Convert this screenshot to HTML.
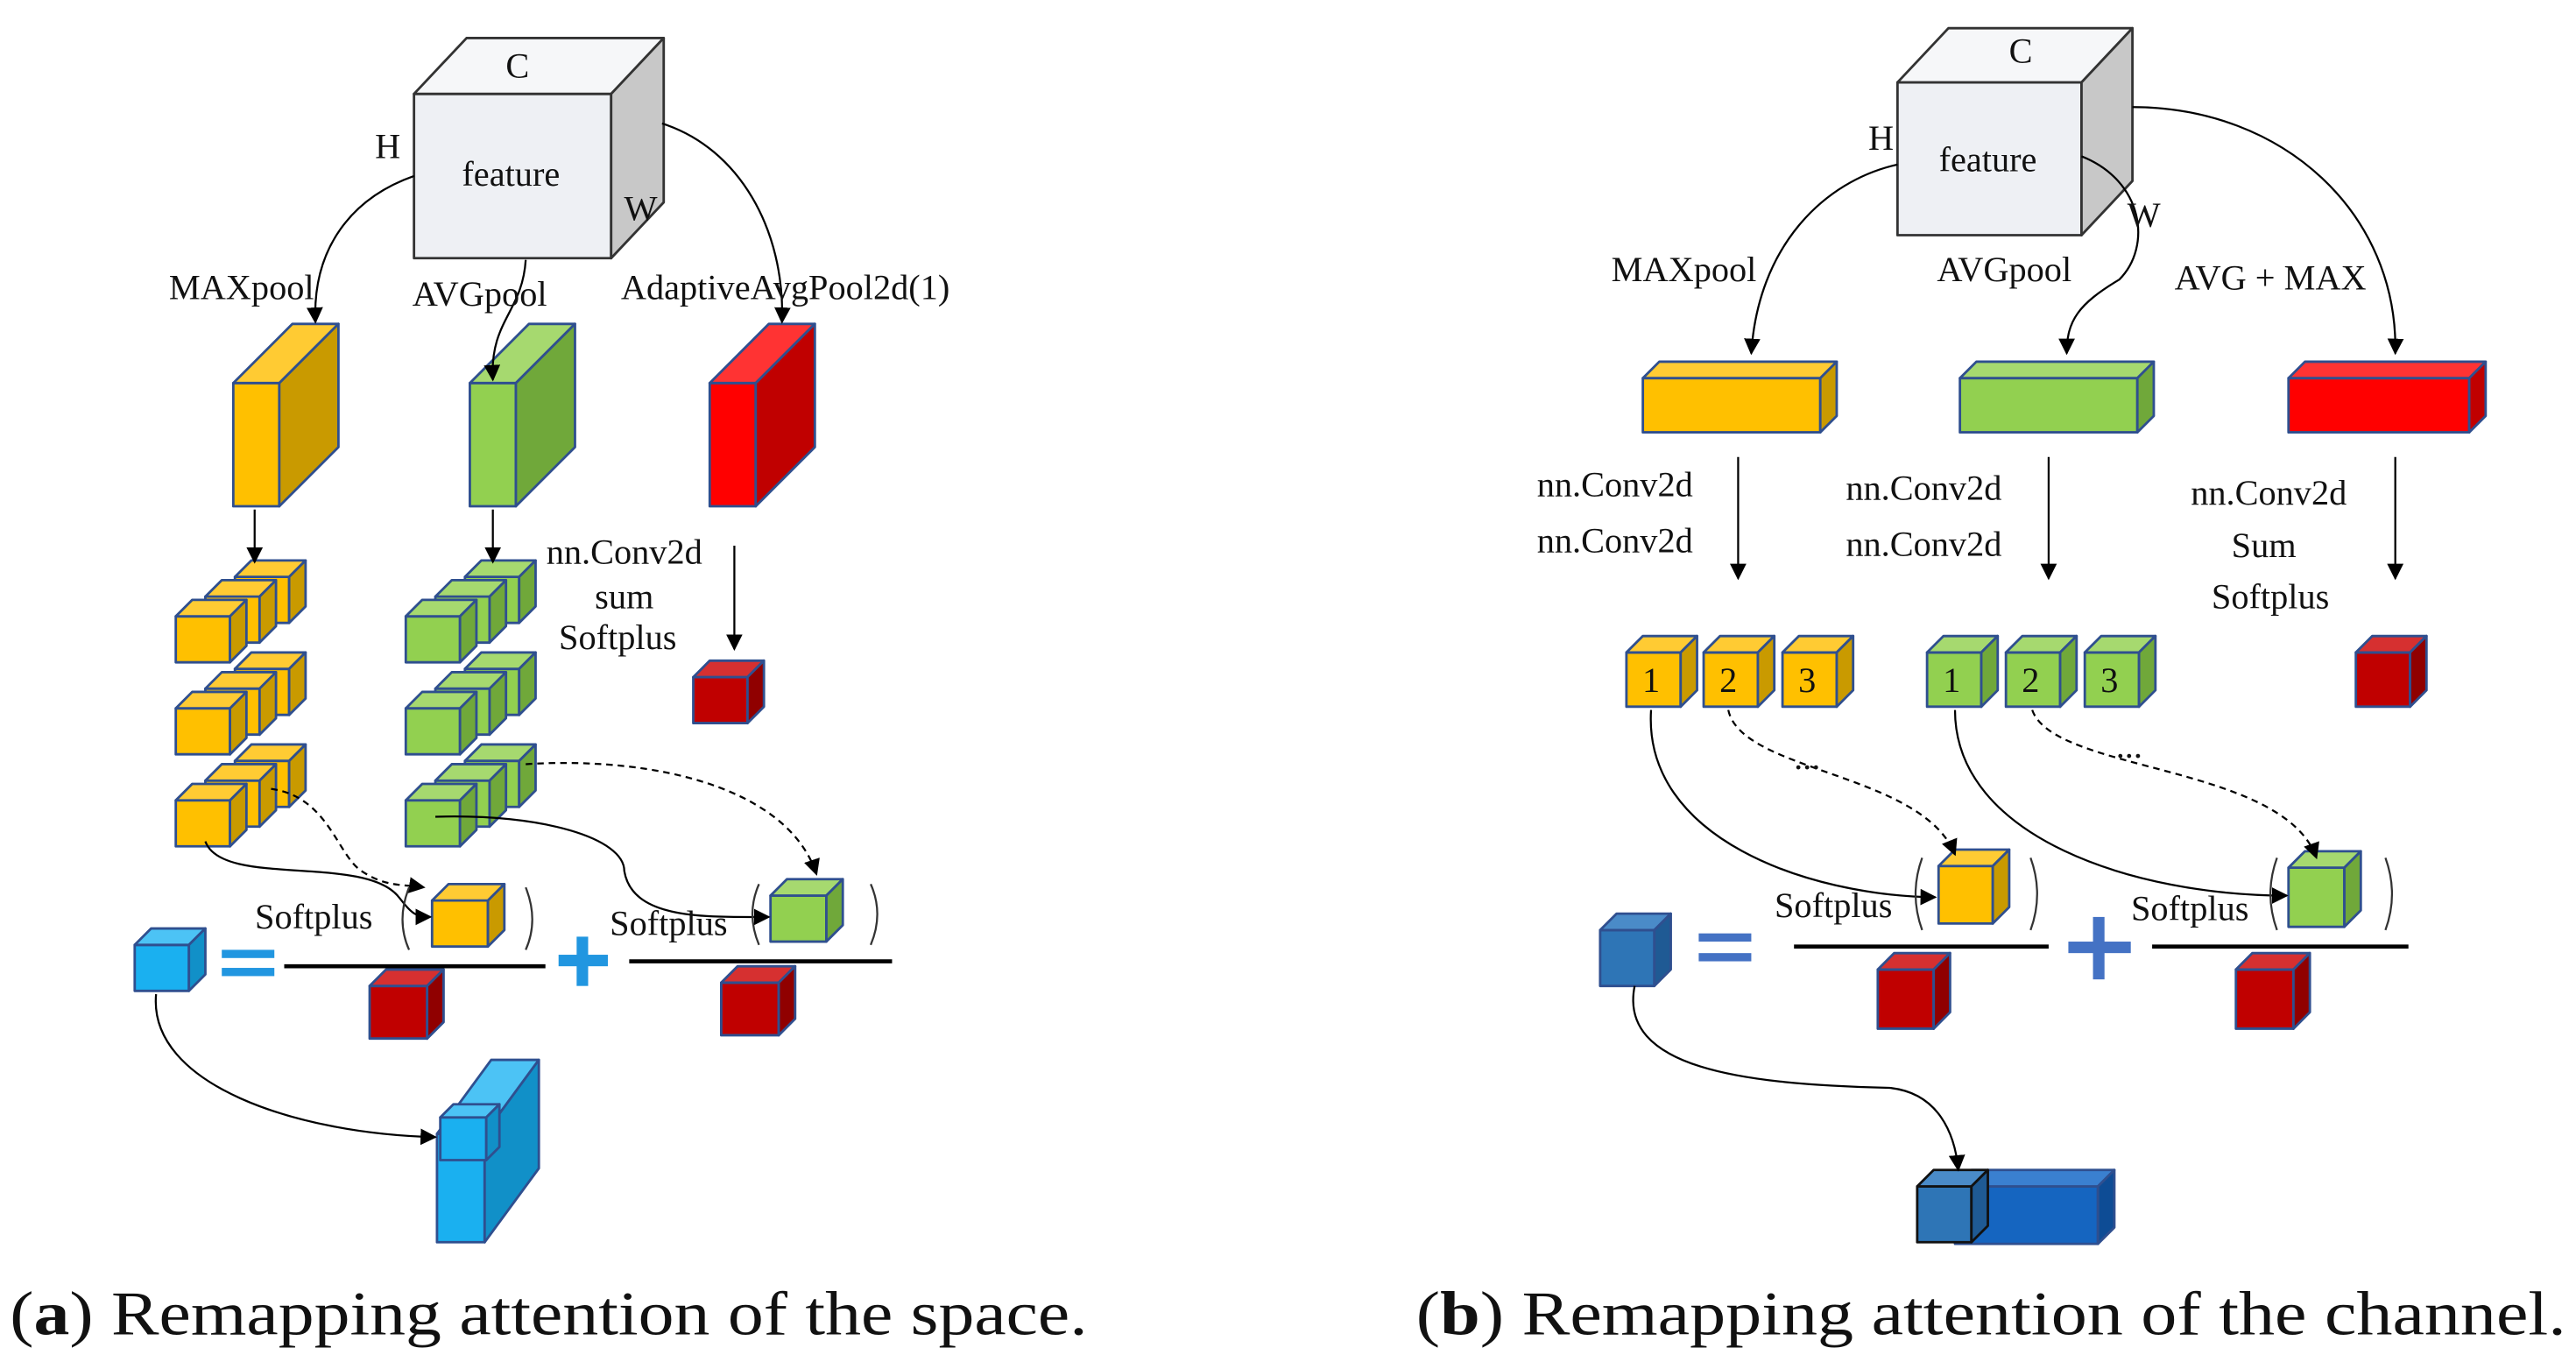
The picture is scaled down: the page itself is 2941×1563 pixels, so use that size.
<!DOCTYPE html>
<html><head><meta charset="utf-8"><style>
html,body{margin:0;padding:0;background:#fff;width:2941px;height:1563px;overflow:hidden}
svg{display:block}
text{font-family:"Liberation Serif",serif;fill:#111}
</style></head><body>
<svg id="s" width="2941" height="1563" viewBox="0 0 1568 833" xmlns="http://www.w3.org/2000/svg">
<defs>
<marker id="ar" markerWidth="10" markerHeight="10" refX="9" refY="5" orient="auto" markerUnits="userSpaceOnUse"><path d="M0,0 L10,5 L0,10 z" fill="#000"/></marker>
</defs>
<g id="cubes"></g>
<g fill="none" stroke="#000" stroke-width="1.2" marker-end="url(#ar)">
<path d="M252,107 C215,120 190,150 192,196"/>
<path d="M320,158 C318,190 298,195 300,231"/>
<path d="M403,75 C450,90 478,140 476,196"/>
<path d="M155,310 L155,342"/>
<path d="M300,310 L300,342"/>
<path d="M447,332 L447,395"/>
<path d="M125,512 C135,540 220,520 242,545 C250,555 252,558 262,558"/>
<path d="M165,480 C200,485 205,520 220,530 C235,540 245,538 258,540" stroke-dasharray="4,3"/>
<path d="M265,497 C330,495 380,510 380,530 C385,560 430,558 468,558"/>
<path d="M320,465 C400,460 480,480 497,532" stroke-dasharray="4,3"/>
<path d="M95,605 C90,660 180,690 265,692"/>
<path d="M1155,100 C1110,110 1070,150 1066,215"/>
<path d="M1267,95 C1305,110 1310,150 1290,170 C1265,185 1258,195 1258,215"/>
<path d="M1298,65 C1390,65 1460,130 1458,215"/>
<path d="M1058,278 L1058,352"/>
<path d="M1247,278 L1247,352"/>
<path d="M1458,278 L1458,352"/>
<path d="M1005,432 C1000,510 1100,545 1178,546"/>
<path d="M1052,432 C1060,470 1170,470 1190,520" stroke-dasharray="4,3"/>
<path d="M1190,432 C1190,510 1300,545 1392,545"/>
<path d="M1237,432 C1250,470 1390,465 1410,522" stroke-dasharray="4,3"/>
<path d="M995,600 C985,650 1060,660 1150,662 C1180,665 1190,690 1192,712"/>
</g>
<g stroke="#000" stroke-width="2.5">
<line x1="173" y1="588" x2="332" y2="588"/><line x1="383" y1="585" x2="543" y2="585"/>
<line x1="1092" y1="576" x2="1247" y2="576"/><line x1="1310" y1="576" x2="1466" y2="576"/>
</g>
<g fill="#2196e0">
<rect x="135" y="578" width="32" height="5"/><rect x="135" y="589" width="32" height="5"/>
<rect x="340" y="581" width="30" height="7"/><rect x="351" y="570" width="7" height="30"/>
</g>
<g fill="#4472c4">
<rect x="1034" y="568" width="32" height="5"/><rect x="1034" y="580" width="32" height="5"/>
<rect x="1259" y="573" width="38" height="7"/><rect x="1274" y="558" width="7" height="38"/>
</g>
<g fill="none" stroke="#333" stroke-width="1.2">
<path d="M249,540 Q241,560 249,578"/><path d="M320,540 Q328,560 320,578"/>
<path d="M462,538 Q454,556 462,575"/><path d="M530,538 Q538,556 530,575"/>
<path d="M1170,522 Q1162,544 1170,566"/><path d="M1236,522 Q1244,544 1236,566"/>
<path d="M1386,522 Q1378,544 1386,566"/><path d="M1452,522 Q1460,544 1452,566"/>
</g>
<g font-size="21.5">
<text x="315" y="47" text-anchor="middle">C</text>
<text x="236" y="96" text-anchor="middle">H</text>
<text x="311" y="113" text-anchor="middle">feature</text>
<text x="390" y="134" text-anchor="middle">W</text>
<text x="147" y="182" text-anchor="middle">MAXpool</text>
<text x="292" y="186" text-anchor="middle">AVGpool</text>
<text x="478" y="182" text-anchor="middle">AdaptiveAvgPool2d(1)</text>
<text x="380" y="343" text-anchor="middle">nn.Conv2d</text>
<text x="380" y="370" text-anchor="middle">sum</text>
<text x="376" y="395" text-anchor="middle">Softplus</text>
<text x="191" y="565" text-anchor="middle">Softplus</text>
<text x="407" y="569" text-anchor="middle">Softplus</text>
<text x="1230" y="38" text-anchor="middle">C</text>
<text x="1145" y="91" text-anchor="middle">H</text>
<text x="1210" y="104" text-anchor="middle">feature</text>
<text x="1305" y="138" text-anchor="middle">W</text>
<text x="1025" y="171" text-anchor="middle">MAXpool</text>
<text x="1220" y="171" text-anchor="middle">AVGpool</text>
<text x="1382" y="176" text-anchor="middle">AVG + MAX</text>
<text x="983" y="302" text-anchor="middle">nn.Conv2d</text>
<text x="983" y="336" text-anchor="middle">nn.Conv2d</text>
<text x="1171" y="304" text-anchor="middle">nn.Conv2d</text>
<text x="1171" y="338" text-anchor="middle">nn.Conv2d</text>
<text x="1381" y="307" text-anchor="middle">nn.Conv2d</text>
<text x="1378" y="339" text-anchor="middle">Sum</text>
<text x="1382" y="370" text-anchor="middle">Softplus</text>
<text x="1116" y="558" text-anchor="middle">Softplus</text>
<text x="1333" y="560" text-anchor="middle">Softplus</text>
<text x="1100" y="468" text-anchor="middle">...</text>
<text x="1296" y="461" text-anchor="middle">...</text>
<text x="1005" y="421" text-anchor="middle">1</text><text x="1052" y="421" text-anchor="middle">2</text><text x="1100" y="421" text-anchor="middle">3</text>
<text x="1188" y="421" text-anchor="middle">1</text><text x="1236" y="421" text-anchor="middle">2</text><text x="1284" y="421" text-anchor="middle">3</text>
</g>
<g font-size="38">
<text x="6" y="812" textLength="656" lengthAdjust="spacingAndGlyphs">(<tspan font-weight="bold">a</tspan>) Remapping attention of the space.</text>
<text x="862" y="812" textLength="700" lengthAdjust="spacingAndGlyphs">(<tspan font-weight="bold">b</tspan>) Remapping attention of the channel.</text>
</g>
</svg>
<script>
var g=document.getElementById('cubes'),NS='http://www.w3.org/2000/svg';
var P={y:['#ffc000','#ffcb33','#c99a00'],g:['#92d050','#a6d96f','#70a83a'],r:['#ff0000','#ff3333','#c00000'],dr:['#c00000','#d63030','#900000'],
b:['#1ab0f0','#4cc3f5','#1190c8'],db:['#2e75b6','#4a8bc8','#1f5a94'],b2:['#1565c0','#3a80d0','#0e4c95'],fe:['#eef0f4','#f6f7f9','#c8c8c8']};
function poly(pts,f,sw,sc){var p=document.createElementNS(NS,'polygon');p.setAttribute('points',pts.map(function(a){return a.join(',')}).join(' '));p.setAttribute('fill',f);p.setAttribute('stroke',sc||'#2f4f8f');p.setAttribute('stroke-width',sw||1.5);p.setAttribute('stroke-linejoin','round');g.appendChild(p);}
function cube(x,y,w,h,dx,dy,c,sc){var k=P[c];
poly([[x,y],[x+w,y],[x+w,y+h],[x,y+h]],k[0],null,sc);
poly([[x,y],[x+dx,y-dy],[x+w+dx,y-dy],[x+w,y]],k[1],null,sc);
poly([[x+w,y],[x+w+dx,y-dy],[x+w+dx,y+h-dy],[x+w,y+h]],k[2],null,sc);}
cube(252,57,120,100,32,34,'fe','#333');
cube(142,233,28,75,36,36,'y');cube(286,233,28,75,36,36,'g');cube(432,233,28,75,36,36,'r');
function stack(x0,c){for(var gi=0;gi<3;gi++){var b=375+gi*56;
cube(x0+36,b-24,33,28,10,10,c);cube(x0+18,b-12,33,28,10,10,c);cube(x0,b,33,28,10,10,c);}}
stack(107,'y');stack(247,'g');
cube(422,412,33,28,10,10,'dr');
cube(82,575,33,28,10,10,'b');
cube(263,548,34,28,10,10,'y');cube(225,600,35,32,10,10,'dr');
cube(469,545,34,28,10,10,'g');cube(439,598,35,32,10,10,'dr');
cube(266,690,29,66,33,45,'b');cube(268,680,28,26,8,8,'b');
cube(1155,50,112,93,31,33,'fe','#333');
cube(1000,230,108,33,10,10,'y');cube(1193,230,108,33,10,10,'g');cube(1393,230,110,33,10,10,'r');
[990,1037,1085].forEach(function(x){cube(x,397,33,33,10,10,'y')});
[1173,1221,1269].forEach(function(x){cube(x,397,33,33,10,10,'g')});
cube(1434,397,33,33,10,10,'dr');
cube(974,566,33,34,10,10,'db');
cube(1180,527,33,35,10,10,'y');cube(1143,590,34,36,10,10,'dr');
cube(1393,528,34,36,10,10,'g');cube(1361,590,35,36,10,10,'dr');
cube(1190,722,87,35,10,10,'b2');cube(1167,722,33,34,10,10,'db','#111');
</script>
</body></html>
